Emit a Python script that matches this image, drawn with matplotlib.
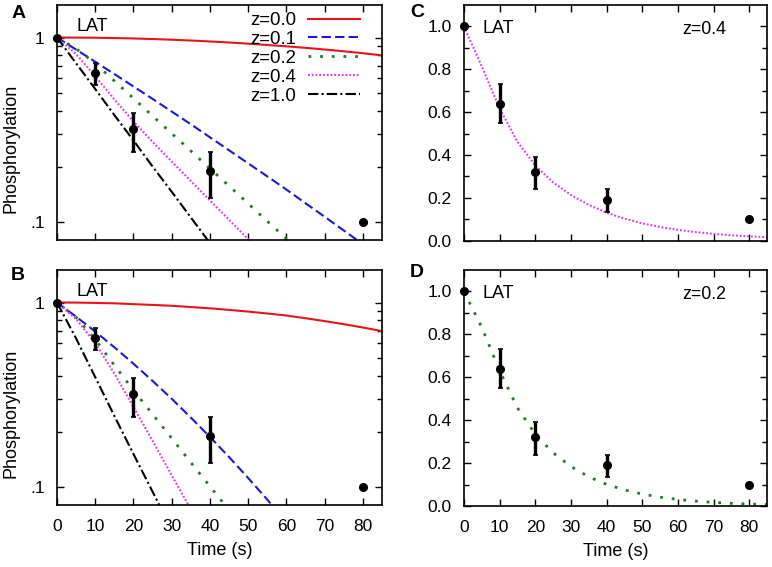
import numpy as np
import matplotlib
matplotlib.use("Agg")
import matplotlib.pyplot as plt
from matplotlib.ticker import FixedLocator, NullFormatter

plt.rcParams['font.family'] = ['Liberation Sans', 'DejaVu Sans']
plt.rcParams['font.size'] = 13

# measured LAT phosphorylation
t_obs = [0, 10, 20, 40, 80]
p_obs = [1.0, 0.64, 0.32, 0.19, 0.10]
p_lo = [1.0, 0.55, 0.24, 0.135, 0.10]
p_hi = [1.0, 0.73, 0.39, 0.24, 0.10]

# model curves
t_model = [0, 5, 10, 15, 20, 25, 30, 35, 40, 45, 50, 55, 60, 65, 70, 75, 80, 85]
z_labels = ['z=0.0', 'z=0.1', 'z=0.2', 'z=0.4', 'z=1.0']

curves_a = [
    [1.0, 0.999, 0.997, 0.993, 0.988, 0.981, 0.973, 0.963, 0.952, 0.94, 0.926, 0.911, 0.896, 0.879, 0.861, 0.842, 0.822, 0.80],
    [1.0, 0.860, 0.739, 0.634, 0.543, 0.465, 0.397, 0.339, 0.288, 0.245, 0.208, 0.177, 0.150, 0.1265, 0.1069, 0.0901, 0.0759, 0.0638],
    [1.0, 0.871, 0.724, 0.582, 0.468, 0.376, 0.302, 0.243, 0.195, 0.157, 0.126, 0.101, 0.0813, 0.0653, 0.0525, 0.042, 0.034, 0.027],
    [1.0, 0.813, 0.617, 0.462, 0.351, 0.272, 0.213, 0.167, 0.131, 0.103, 0.0809, 0.0638, 0.0505, 0.040, 0.0318, 0.0253, 0.0202, 0.0161],
    [1.0, 0.725, 0.526, 0.38, 0.277, 0.20, 0.146, 0.106, 0.077, 0.056, 0.04, 0.029, 0.021, 0.015, 0.011, 0.008, 0.006, 0.004],
]
curves_b = [
    [1.0, 0.999, 0.995, 0.99, 0.98, 0.97, 0.96, 0.945, 0.93, 0.912, 0.893, 0.872, 0.85, 0.822, 0.793, 0.763, 0.732, 0.70],
    [1.0, 0.838, 0.696, 0.572, 0.466, 0.376, 0.301, 0.238, 0.187, 0.1455, 0.112, 0.0855, 0.0646, 0.048, 0.036, 0.026, 0.019, 0.013],
    [1.0, 0.832, 0.631, 0.457, 0.335, 0.248, 0.184, 0.136, 0.101, 0.075, 0.0556, 0.0412, 0.0305, 0.0226, 0.0168, 0.0124, 0.0092, 0.0068],
    [1.0, 0.813, 0.603, 0.412, 0.272, 0.178, 0.116, 0.0759, 0.0495, 0.0324, 0.0211, 0.0138, 0.009, 0.006, 0.004, 0.003, 0.002, 0.001],
    [1.0, 0.638, 0.394, 0.243, 0.151, 0.0944, 0.0589, 0.0367, 0.0229, 0.0143, 0.009, 0.006, 0.004, 0.003, 0.002, 0.001, 0.001, 0.001],
]

colors = ['#e8141c', '#1a1ad2', '#1f7f1f', '#e23ee2', 'black']
widths = [1.5, 1.5, 2.0, 1.5, 1.5]
dashes = [None, (4.5, 2.0), (1.0, 3.2), (0.9, 0.9), (5, 1.5, 1, 1.5)]

W, H = 772, 567
fig = plt.figure(figsize=(W / 100, H / 100), dpi=100)


def px_axes(l, t, r, b):
    return fig.add_axes([l / W, 1 - b / H, (r - l) / W, (b - t) / H])


def style(ax, xlabels):
    ax.set_xlim(0, 85)
    ax.set_xticks(range(0, 90, 10))
    if not xlabels:
        ax.set_xticklabels([])
    ax.tick_params(which='both', direction='in', top=True, right=True, width=1.0, labelsize=12.5)
    ax.tick_params(which='major', length=5)
    ax.tick_params(axis='x', which='major', pad=10)
    ax.tick_params(axis='y', which='major', pad=9)
    ax.tick_params(which='minor', length=3.5)
    for s in ax.spines.values():
        s.set_linewidth(1.2)


def draw_data(ax):
    ax.plot(t_obs, p_obs, 'o', color='black', ms=5.5, clip_on=False, zorder=5)
    idx = [i for i in range(len(t_obs)) if p_hi[i] > p_lo[i]]
    tt = [t_obs[i] for i in idx]
    yy = [p_obs[i] for i in idx]
    err = [[p_obs[i] - p_lo[i] for i in idx], [p_hi[i] - p_obs[i] for i in idx]]
    ax.errorbar(tt, yy, yerr=err, fmt='none', ecolor='black', elinewidth=2.4,
                capsize=1.8, capthick=1.2, zorder=5)


def draw_curve(ax, vals, k):
    line, = ax.plot(t_model, vals, color=colors[k], lw=widths[k])
    if dashes[k] is not None:
        line.set_dashes(dashes[k])
    return line


def log_axes(ax):
    ax.set_yscale('log')
    ax.set_ylim(0.08, 1.5)
    ax.yaxis.set_major_locator(FixedLocator([0.1, 1]))
    ax.set_yticklabels(['.1', '1'])
    ax.yaxis.set_minor_locator(FixedLocator([0.2, 0.3, 0.4, 0.5, 0.6, 0.7, 0.8, 0.9]))
    ax.yaxis.set_minor_formatter(NullFormatter())
    ax.set_ylabel('Phosphorylation')
    ax.yaxis.set_label_coords(-0.114, 0.39)


def lin_axes(ax):
    ax.set_ylim(0, 1.1)
    ax.set_yticks([0, 0.2, 0.4, 0.6, 0.8, 1.0])
    ax.set_yticklabels(['0.0', '0.2', '0.4', '0.6', '0.8', '1.0'])
    ax.yaxis.set_minor_locator(FixedLocator([0.1, 0.3, 0.5, 0.7, 0.9]))
    ax.yaxis.set_minor_formatter(NullFormatter())
    ax.tick_params(which='minor', length=5)


# panel A
axA = px_axes(57, 5, 382, 240)
handles = [draw_curve(axA, c, k) for k, c in enumerate(curves_a)]
draw_data(axA)
log_axes(axA)
style(axA, False)
axA.text(0.06, 0.91, 'LAT', transform=axA.transAxes, va='center', ha='left')
axA.legend(handles, z_labels, loc='upper right', bbox_to_anchor=(0.932, 0.97),
           frameon=False, markerfirst=False, handlelength=2.8, handletextpad=0.6,
           labelspacing=0.1, borderaxespad=0, borderpad=0, fontsize=13.4)

# panel B
axB = px_axes(57, 270, 382, 505)
for k, c in enumerate(curves_b):
    draw_curve(axB, c, k)
draw_data(axB)
log_axes(axB)
style(axB, True)
axB.set_xlabel('Time (s)', labelpad=6)
axB.text(0.06, 0.91, 'LAT', transform=axB.transAxes, va='center', ha='left')

# panel C: z=0.4 from A
axC = px_axes(464, 5, 767, 240.7)
draw_curve(axC, curves_a[3], 3)
draw_data(axC)
lin_axes(axC)
style(axC, False)
axC.text(5.3, 0.99, 'LAT', va='center', ha='left')
axC.text(0.865, 0.895, 'z=0.4', transform=axC.transAxes, va='center', ha='right', fontsize=12.8)

# panel D: z=0.2 from B
axD = px_axes(464, 270, 767, 506)
draw_curve(axD, curves_b[2], 2)
draw_data(axD)
lin_axes(axD)
style(axD, True)
axD.set_xlabel('Time (s)', labelpad=6)
axD.text(5.3, 0.99, 'LAT', va='center', ha='left')
axD.text(0.865, 0.895, 'z=0.2', transform=axD.transAxes, va='center', ha='right', fontsize=12.8)

for lab, x, y in [('A', 19, 14), ('B', 18, 276), ('C', 417, 12.5), ('D', 417, 273)]:
    fig.text(x / W, 1 - y / H, lab, fontweight='bold', fontsize=14, ha='center', va='center')

fig.savefig('out.png', dpi=100)
